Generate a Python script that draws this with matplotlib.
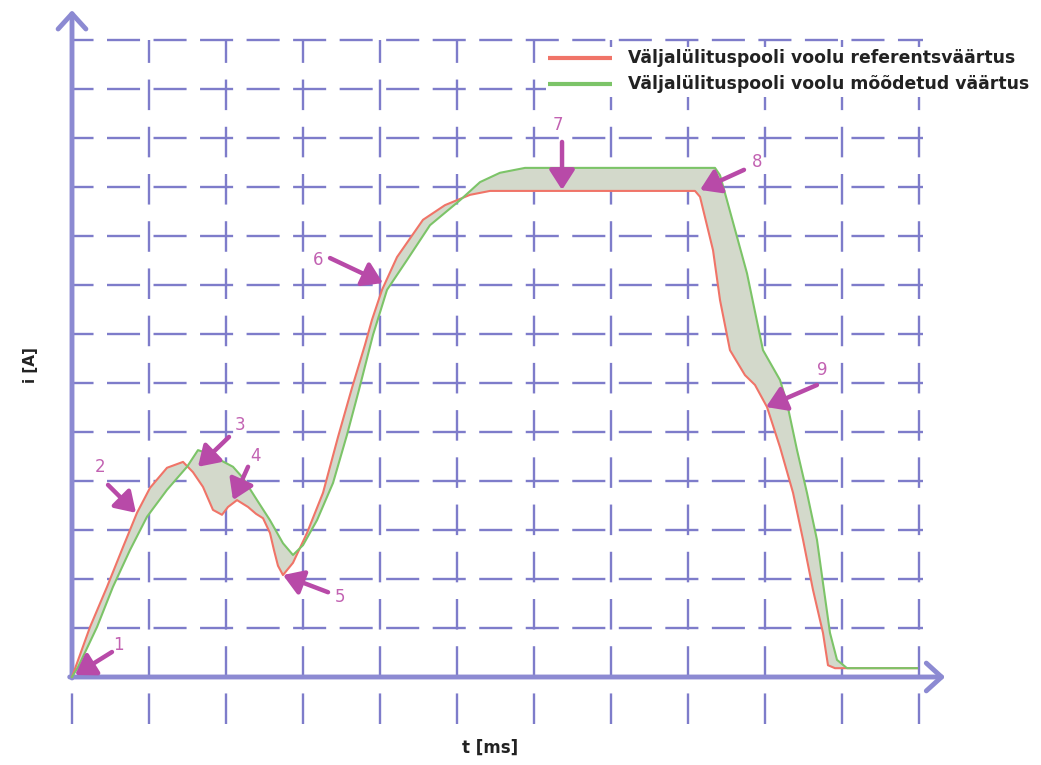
import matplotlib
matplotlib.use("Agg")
import matplotlib.pyplot as plt
from matplotlib.patches import Polygon, Rectangle
import numpy as np

plt.rcParams['lines.scale_dashes'] = False

# Reference (set-point) current of the trip coil: t [ms], i [A]
t_ref = [0.0, 0.234, 0.455, 0.662, 0.844, 1.013, 1.234, 1.442, 1.571, 1.701,
         1.831, 1.948, 2.026, 2.143, 2.286, 2.390, 2.481, 2.571, 2.623, 2.675,
         2.740, 2.870, 3.052, 3.260, 3.455, 3.636, 3.805, 3.896, 4.026, 4.221,
         4.558, 4.844, 5.169, 5.429, 8.091, 8.156, 8.325, 8.416, 8.545, 8.740,
         8.870, 9.026, 9.195, 9.364, 9.494, 9.623, 9.753, 9.818, 9.909, 10.974]
i_ref = [0.0, 1.02, 1.84, 2.65, 3.35, 3.86, 4.27, 4.39, 4.18, 3.88,
         3.41, 3.31, 3.47, 3.61, 3.47, 3.33, 3.24, 2.94, 2.59, 2.27,
         2.08, 2.33, 2.94, 3.76, 4.90, 5.90, 6.78, 7.29, 7.90, 8.57,
         9.33, 9.63, 9.84, 9.92, 9.92, 9.80, 8.71, 7.69, 6.67, 6.16,
         5.96, 5.51, 4.69, 3.76, 2.80, 1.78, 0.90, 0.24, 0.18, 0.18]

# Measured current of the trip coil
t_meas = [0.0, 0.078, 0.325, 0.532, 0.753, 0.974, 1.234, 1.494, 1.636, 1.753,
          1.922, 2.091, 2.221, 2.403, 2.571, 2.740, 2.870, 3.000, 3.182, 3.390,
          3.571, 3.727, 3.909, 4.091, 4.351, 4.649, 5.039, 5.299, 5.558, 5.883,
          8.351, 8.416, 8.506, 8.766, 8.974, 9.195, 9.286, 9.416, 9.545, 9.675,
          9.753, 9.844, 9.935, 10.065, 10.974]
i_meas = [0.0, 0.20, 1.02, 1.84, 2.59, 3.27, 3.82, 4.29, 4.63, 4.57,
          4.43, 4.29, 4.06, 3.61, 3.20, 2.73, 2.49, 2.69, 3.20, 3.96,
          4.94, 5.86, 6.98, 7.90, 8.51, 9.22, 9.73, 10.10, 10.29, 10.39,
          10.39, 10.24, 9.73, 8.24, 6.67, 6.06, 5.59, 4.63, 3.76, 2.80,
          1.92, 0.90, 0.35, 0.18, 0.18]

# Numbered markers: label, text position, arrow tail, arrow head
marker_labels = ['1', '2', '3', '4', '5', '6', '7', '8', '9']
marker_text = [(0.597, 0.65), (0.364, 4.29), (2.182, 5.14), (2.377, 4.51),
               (3.481, 1.63), (3.195, 8.51), (6.312, 11.27), (8.896, 10.51),
               (9.740, 6.27)]
marker_tail = [(0.519, 0.51), (0.468, 3.92), (2.039, 4.90), (2.286, 4.29),
               (3.325, 1.73), (3.351, 8.55), (6.364, 10.92), (8.727, 10.35),
               (9.675, 5.96)]
marker_head = [(0.039, 0.04), (0.831, 3.35), (1.636, 4.29), (2.091, 3.61),
               (2.740, 2.08), (4.039, 8.04), (6.364, 9.94), (8.156, 9.94),
               (9.013, 5.51)]

legend_labels = ['Väljalülituspooli voolu referentsväärtus',
                 'Väljalülituspooli voolu mõõdetud väärtus']

n_cols = 11
n_rows = 13

grid_col = '#7e7cca'
axis_col = '#8c8ad2'
red = '#f07468'
green = '#7cc468'
fill_col = '#d3d9cb'
arrow_col = '#b84aa8'
num_col = '#c262b2'

fig = plt.figure(figsize=(10.41, 7.65), dpi=100)
ax = fig.add_axes([0, 0, 1, 1])
ax.set_xlim(-72 / 77, (1041 - 72) / 77)
ax.set_ylim((677 - 765) / 49, 677 / 49)
ax.axis('off')

# dashed grid
for k in range(1, n_rows + 1):
    ax.plot([0, n_cols + 0.05], [k, k], color=grid_col, lw=1.7,
            linestyle=(8.3, (23.8, 9.7)), dash_capstyle='butt', zorder=1)
for k in range(0, n_cols + 1):
    ax.plot([k, k], [-0.95, n_rows], color=grid_col, lw=1.7,
            linestyle=(0, (22.0, 12.0)), dash_capstyle='butt', zorder=1)

# axes with open arrow heads
ax.annotate('', xy=(0, 13.61), xytext=(0, -0.02),
            arrowprops=dict(arrowstyle='->,head_length=0.55,head_width=0.5',
                            color=axis_col, lw=3.5, mutation_scale=20,
                            shrinkA=0, shrinkB=0), zorder=3)
ax.annotate('', xy=(11.34, 0), xytext=(-0.03, 0),
            arrowprops=dict(arrowstyle='->,head_length=0.55,head_width=0.5',
                            color=axis_col, lw=3.5, mutation_scale=20,
                            shrinkA=0, shrinkB=0), zorder=3)

# shaded deviation between reference and measured current
poly = np.vstack([np.column_stack([t_ref, i_ref]),
                  np.column_stack([t_meas, i_meas])[::-1]])
ax.add_patch(Polygon(poly, closed=True, facecolor=fill_col, edgecolor='none',
                     zorder=2))

ax.plot(t_ref, i_ref, color=red, lw=1.5, zorder=4, solid_joinstyle='round')
ax.plot(t_meas, i_meas, color=green, lw=1.5, zorder=5, solid_joinstyle='round')

# numbered arrows
for lab, tp, tail, head in zip(marker_labels, marker_text, marker_tail, marker_head):
    ax.annotate('', xy=head, xytext=tail,
                arrowprops=dict(arrowstyle='-|>,head_length=0.7,head_width=0.45',
                                color=arrow_col, lw=3.2, mutation_scale=17,
                                shrinkA=0, shrinkB=0), zorder=6)
    ax.text(tp[0], tp[1], lab, color=num_col, fontsize=12, ha='center',
            va='center', family='DejaVu Sans', zorder=6)

# legend
ax.add_patch(Rectangle((6.15, 11.84), 6.0, 1.02, facecolor='white',
                       edgecolor='none', zorder=7))
for y, c, lab in zip([12.63, 12.10], [red, green], legend_labels):
    ax.plot([6.18, 7.01], [y, y], color=c, lw=3.0, zorder=8,
            solid_capstyle='butt')
    ax.text(7.22, y, lab, color='#222222', fontsize=12.4, fontweight='bold',
            family='DejaVu Sans', ha='left', va='center', zorder=8)

# axis titles
ax.text(-0.545, 6.37, 'i [A]', rotation=90, ha='center', va='center',
        fontsize=11, fontweight='bold', color='#222222', family='DejaVu Sans')
ax.text(5.429, -1.45, 't [ms]', ha='center', va='center',
        fontsize=12, fontweight='bold', color='#222222', family='DejaVu Sans')

fig.savefig('out.png', dpi=100, facecolor='white')
